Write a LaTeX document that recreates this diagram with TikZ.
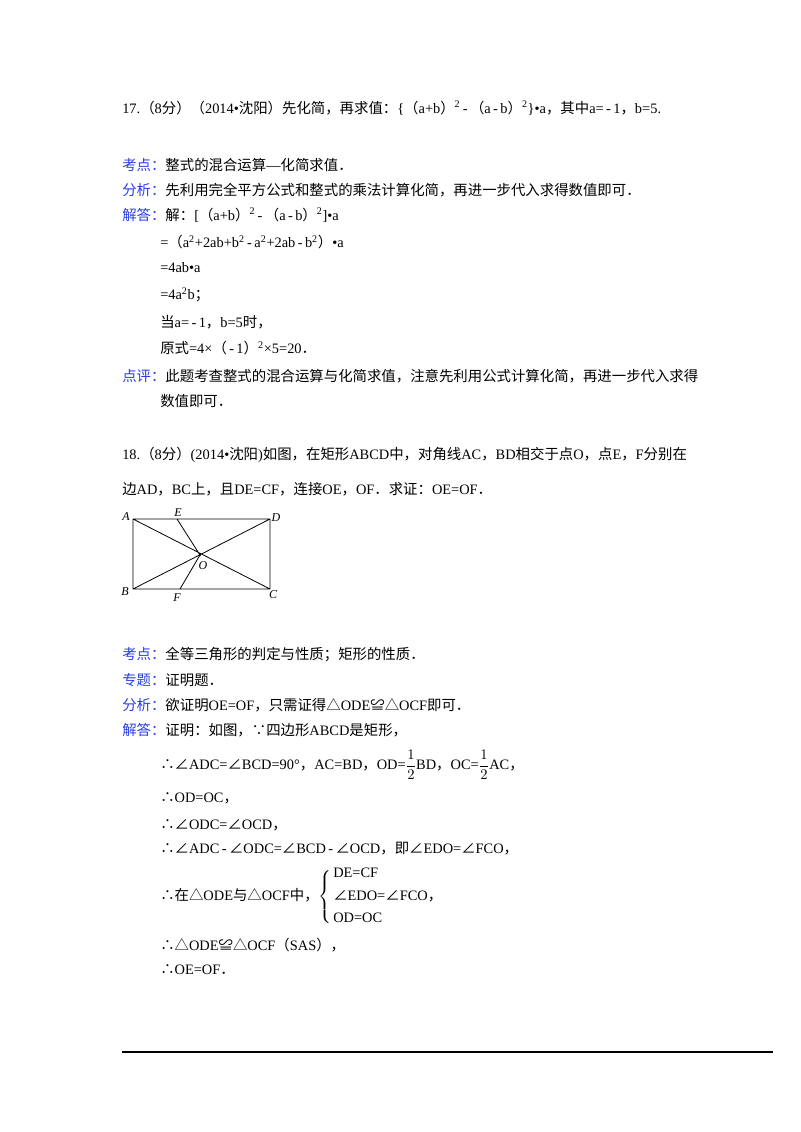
\documentclass[tikz,border=0pt]{standalone}
\usepackage{amsmath}
\usepackage{fontspec}
\setmainfont{Liberation Serif}
\newfontfamily\cjk{Noto Sans CJK SC}
\XeTeXinterchartokenstate=1
\newXeTeXintercharclass\cjkclass
\newcount\cc
\cc="4E00 \loop \XeTeXcharclass\cc=\cjkclass \advance\cc 1 \ifnum\cc<"A000 \repeat
\cc="3000 \loop \XeTeXcharclass\cc=\cjkclass \advance\cc 1 \ifnum\cc<"3040 \repeat
\cc="FF01 \loop \XeTeXcharclass\cc=\cjkclass \advance\cc 1 \ifnum\cc<"FF60 \repeat
\cc="2200 \loop \XeTeXcharclass\cc=\cjkclass \advance\cc 1 \ifnum\cc<"2300 \repeat
\cc="25A0 \loop \XeTeXcharclass\cc=\cjkclass \advance\cc 1 \ifnum\cc<"2600 \repeat
\XeTeXinterchartoks 0 \cjkclass = {\cjk}
\XeTeXinterchartoks 4095 \cjkclass = {\cjk}
\XeTeXinterchartoks \cjkclass 0 = {\rmfamily}
\definecolor{lbl}{RGB}{40,60,230}
\newcommand{\lb}[1]{{\color{lbl}#1}}
\newcommand{\sq}{\rmfamily\textsuperscript{2}\rmfamily}
\newcommand{\mi}{\rmfamily\,-\,}
\begin{document}
\begin{tikzpicture}[x=0.75pt,y=-0.75pt,
  tx/.style={anchor=west,inner sep=0pt,font=\fontsize{10.8}{12}\selectfont},
  lab/.style={inner sep=0pt,font=\fontsize{9}{10}\selectfont\itshape}]
\useasboundingbox (0,0) rectangle (800,1132);
\node[tx] (t1) at (122,108) {17.（8分）（2014•沈阳）先化简，再求值：\rmfamily\{（a+b）\sq\mi（a\mi b）\sq\}•a，其中a=\mi 1，b=5.};
\node[tx] (t2) at (122,165) {\lb{考点：}整式的混合运算—化简求值．};
\node[tx] (t3) at (122,190) {\lb{分析：}先利用完全平方公式和整式的乘法计算化简，再进一步代入求得数值即可．};
\node[tx] (t4) at (122,215) {\lb{解答：}解：[（a+b）\sq\mi（a\mi b）\sq]•a};
\node[tx] (t5) at (160,242) {=（a\sq+2ab+b\sq\mi a\sq+2ab\mi b\sq）\rmfamily•a};
\node[tx] (t6) at (160,268) {=4ab•a};
\node[tx] (t7) at (160,295) {=4a\sq b；};
\node[tx] (t8) at (160,322) {当a=\mi 1，b=5时，};
\node[tx] (t9) at (160,348) {原式=4×（\mi 1）\sq ×5=20．};
\node[tx] (t10) at (122,376) {\lb{点评：}此题考查整式的混合运算与化简求值，注意先利用公式计算化简，再进一步代入求得};
\node[tx] (t11) at (160,401) {数值即可．};
\node[tx] (u1) at (122,455) {18.（8分）(2014•沈阳)如图，在矩形ABCD中，对角线AC，BD相交于点O，点E，F分别在};
\node[tx] (u2) at (122,489) {边AD，BC上，且DE=CF，连接OE，OF．求证：OE=OF．};
% figure
\coordinate (A) at (133,519); \coordinate (D) at (270,519);
\coordinate (B) at (133,589); \coordinate (C) at (270,589);
\coordinate (O) at (200,555); \coordinate (E) at (177,519); \coordinate (F) at (180,589);
\draw[line width=0.6pt] (A)--(D)--(C)--(B)--cycle (A)--(C) (B)--(D) (E)--(O)--(F);
\fill (O) circle (1.2);
\node[lab] (lA) at (126,517) {A}; \node[lab] (lE) at (178,513) {E};
\node[lab] (lD) at (276,518) {D}; \node[lab] (lO) at (203,566) {O};
\node[lab] (lB) at (125,592) {B}; \node[lab] (lF) at (177,598) {F};
\node[lab] (lC) at (273,595) {C};
\node[tx] (v1) at (122,655) {\lb{考点：}全等三角形的判定与性质；矩形的性质．};
\node[tx] (v2) at (122,680) {\lb{专题：}证明题．};
\node[tx] (v3) at (122,705) {\lb{分析：}欲证明OE=OF，只需证得△ODE≌△OCF即可．};
\node[tx] (v4) at (122,730) {\lb{解答：}证明：如图，∵四边形ABCD是矩形，};
\node[tx] (v5) at (160,765) {∴∠ADC=∠BCD=90°，AC=BD，OD=$\dfrac{1}{2}$BD，OC=$\dfrac{1}{2}$AC，};
\node[tx] (v6) at (160,798) {∴OD=OC，};
\node[tx] (v7) at (160,825) {∴∠ODC=∠OCD，};
\node[tx] (v8) at (160,849) {∴∠ADC\mi ∠ODC=∠BCD\mi ∠OCD，即∠EDO=∠FCO，};
\node[tx] (v9) at (160,897) {∴在△ODE与△OCF中，$\left\{\vphantom{\rule{0pt}{24pt}}\right.$\rmfamily\begin{tabular}[c]{@{}l@{}}\rmfamily DE=CF\\[5pt]∠EDO=∠FCO，\\[5pt]\rmfamily OD=OC\end{tabular}};
\node[tx] (v10) at (160,945) {∴△ODE≌△OCF（SAS），};
\node[tx] (v11) at (160,970) {∴OE=OF．};
\draw[line width=0.8pt] (122,1052) -- (773,1052);
\end{tikzpicture}
\end{document}
